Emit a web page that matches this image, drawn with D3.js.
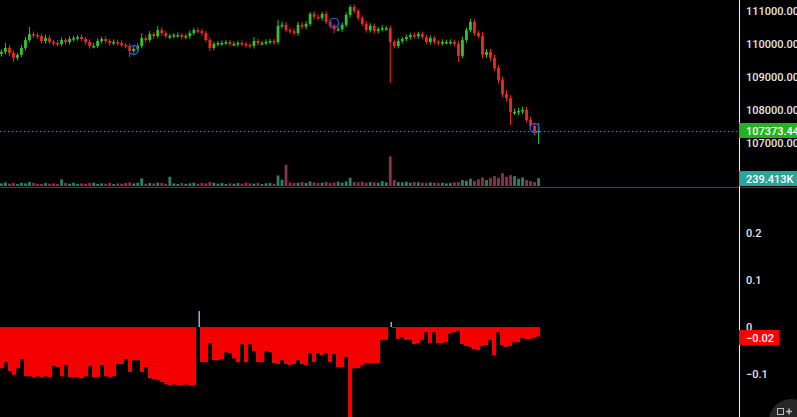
<!DOCTYPE html>
<html>
<head>
<meta charset="utf-8">
<script src="https://cdnjs.cloudflare.com/ajax/libs/d3/7.8.5/d3.min.js"></script>
<style>
  html, body { margin: 0; padding: 0; background: #000; overflow: hidden; }
  svg { display: block; font-family: Roboto, "DejaVu Sans", sans-serif; }
</style>
</head>
<body>
<svg width="797" height="417"></svg>
<script>
// closes of each candle, open = close of the one before
const firstOpen = 109700;
const closes = [
  109760, 109880, 109730, 109580, 109670, 109880, 110120, 110300, 110270, 110240,
  110090, 110180, 110060, 110030, 110000, 110120, 110060, 110150, 110180, 110210,
  110150, 110060, 109940, 109940, 110090, 110150, 110090, 110030, 110060, 110030,
  109970, 109940, 109790, 109850, 109940, 110180, 110120, 110300, 110240, 110420,
  110330, 110240, 110240, 110270, 110270, 110210, 110240, 110330, 110420, 110390,
  110330, 110120, 109880, 110000, 110030, 110030, 110060, 110000, 110000, 110030,
  110000, 109970, 109940, 110090, 110030, 110030, 110060, 110090, 110060, 110550,
  110580, 110420, 110390, 110330, 110580, 110520, 110610, 110910, 110820, 110790,
  110910, 110670, 110550, 110450, 110450, 110580, 110880, 111120, 111000, 110790,
  110610, 110420, 110550, 110390, 110450, 110480, 110480, 110060, 109940, 110090,
  110150, 110210, 110270, 110240, 110300, 110210, 110060, 110180, 110060, 110030,
  110060, 110060, 110060, 110000, 109640, 110120, 110420, 110670, 110330, 110240,
  109670, 109760, 109580, 109270, 108910, 108480, 108360, 107940, 107940, 107970,
  108000, 107700, 107520, 107330, 107373.44
];
// wick length above / below the body
const wickUp = [
  80, 150, 90, 70, 60, 90, 100, 215, 80, 60,
  70, 100, 80, 60, 90, 80, 60, 80, 70, 60,
  80, 60, 80, 90, 80, 70, 80, 60, 80, 70,
  80, 60, 80, 70, 80, 150, 80, 90, 70, 120,
  80, 70, 70, 60, 80, 70, 60, 80, 70, 80,
  70, 60, 80, 70, 60, 80, 70, 60, 80, 70,
  80, 70, 60, 120, 70, 60, 80, 70, 60, 180,
  100, 80, 70, 80, 100, 80, 80, 60, 80, 70,
  60, 80, 70, 60, 80, 70, 80, 60, 80, 70,
  80, 90, 80, 70, 60, 100, 70, 80, 70, 80,
  70, 80, 70, 80, 70, 80, 70, 80, 70, 60,
  80, 70, 80, 70, 90, 100, 80, 90, 80, 70,
  120, 80, 90, 100, 90, 100, 120, 90, 100, 90,
  100, 90, 100, 90, 230
];
const wickDown = [
  80, 80, 100, 125, 70, 70, 80, 70, 80, 80,
  70, 80, 70, 80, 70, 70, 80, 70, 70, 80,
  70, 80, 80, 70, 70, 80, 70, 80, 70, 80,
  70, 80, 185, 70, 80, 70, 80, 70, 80, 70,
  80, 70, 100, 70, 80, 70, 70, 80, 70, 70,
  80, 70, 100, 70, 70, 80, 70, 80, 70, 80,
  70, 80, 70, 80, 70, 80, 70, 70, 80, 70,
  80, 70, 80, 70, 80, 70, 80, 70, 80, 70,
  80, 70, 80, 120, 70, 80, 70, 80, 70, 80,
  70, 80, 70, 80, 70, 70, 80, 1240, 80, 70,
  80, 70, 80, 70, 80, 70, 70, 80, 80, 70,
  80, 70, 80, 80, 185, 70, 80, 70, 80, 70,
  100, 90, 100, 90, 100, 90, 100, 395, 90, 100,
  90, 80, 90, 100, 360
];
// volume, thousands
const volumes = [
  80, 110, 70, 90, 60, 100, 80, 120, 90, 70,
  60, 90, 70, 80, 60, 200, 90, 70, 100, 60,
  80, 70, 90, 100, 60, 80, 70, 90, 60, 80,
  70, 90, 110, 80, 100, 230, 70, 90, 80, 100,
  90, 70, 280, 80, 60, 90, 70, 80, 100, 70,
  90, 80, 120, 100, 70, 90, 60, 80, 70, 90,
  70, 100, 80, 70, 90, 60, 80, 90, 70, 320,
  190, 640, 110, 90, 100, 120, 90, 140, 110, 90,
  100, 120, 90, 110, 130, 100, 140, 250, 120, 110,
  130, 100, 120, 110, 100, 150, 110, 900, 180, 120,
  110, 130, 100, 120, 110, 100, 90, 110, 100, 90,
  100, 80, 90, 110, 120, 180, 160, 220, 150, 200,
  260, 180, 240, 300, 250, 390, 280, 330, 300, 220,
  260, 180, 150, 120, 239.413
];
// lower pane oscillator
const osc = [
  -0.087, -0.074, -0.093, -0.101, -0.087, -0.068, -0.104, -0.104, -0.106, -0.104,
  -0.106, -0.104, -0.106, -0.082, -0.085, -0.104, -0.080, -0.106, -0.106, -0.106,
  -0.108, -0.104, -0.082, -0.106, -0.106, -0.080, -0.104, -0.106, -0.104, -0.078,
  -0.078, -0.068, -0.095, -0.070, -0.070, -0.095, -0.085, -0.108, -0.110, -0.112,
  -0.116, -0.121, -0.123, -0.121, -0.123, -0.123, -0.121, -0.123, -0.123, 0.034,
  -0.074, -0.074, -0.034, -0.070, -0.070, -0.068, -0.053, -0.055, -0.066, -0.074,
  -0.036, -0.074, -0.036, -0.051, -0.074, -0.074, -0.051, -0.053, -0.076, -0.078,
  -0.070, -0.078, -0.080, -0.078, -0.070, -0.078, -0.080, -0.055, -0.074, -0.055,
  -0.059, -0.055, -0.074, -0.057, -0.085, -0.085, -0.063, -0.190, -0.087, -0.087,
  -0.080, -0.076, -0.076, -0.076, -0.076, -0.027, -0.027, 0.011, -0.002, -0.025,
  -0.021, -0.027, -0.027, -0.036, -0.034, -0.027, -0.011, -0.034, -0.011, -0.034,
  -0.034, -0.032, -0.013, -0.011, -0.008, -0.036, -0.040, -0.042, -0.047, -0.049,
  -0.040, -0.038, -0.027, -0.059, -0.011, -0.038, -0.042, -0.040, -0.032, -0.032,
  -0.023, -0.025, -0.025, -0.023, -0.020
];
const priceTicks = [111000, 110000, 109000, 108000, 107000];
const oscTicks = [0.2, 0.1, 0, -0.1];
const markIdx = [33, 83, 133];
const markPrice = [109820, 110640, 107455];
const lastPrice = 107373.44;
const lastVolume = 239.413;
const lastOsc = -0.02;

const svg = d3.select("svg");
const W = 797, H = 417, axisX = 739, paneSplit = 187;
const upColor = "#35c22f", downColor = "#ec2a1f";
const labelFont = 11;

const n = closes.length;
const opens = closes.map((c, i) => i === 0 ? firstOpen : closes[i - 1]);

const x = d3.scaleBand().domain(d3.range(n)).range([0, 540]).paddingInner(0.3);
const xo = d3.scaleBand().domain(d3.range(n)).range([0, 540]);
const y = d3.scaleLinear().domain([105667, 111333]).range([paneSplit, 0]);
const vy = d3.scaleLinear().domain([0, 1000]).range([186, 153]);
const oy = d3.scaleLinear().domain([-0.19, 0.294]).range([H, paneSplit + 1]);

svg.append("rect").attr("width", W).attr("height", H).attr("fill", "#000");

// volume
svg.append("g").selectAll("rect")
  .data(volumes)
  .enter().append("rect")
  .attr("x", (d, i) => x(i))
  .attr("width", x.bandwidth())
  .attr("y", d => vy(d))
  .attr("height", d => vy(0) - vy(d))
  .attr("fill", (d, i) => closes[i] >= opens[i] ? "#2a7f66" : "#8d2f55");

// last price dotted line
svg.append("line")
  .attr("x1", 0).attr("x2", axisX)
  .attr("y1", Math.round(y(lastPrice)) + 0.5).attr("y2", Math.round(y(lastPrice)) + 0.5)
  .attr("stroke", "#2fb52a").attr("stroke-dasharray", "1,3");

// candles
const candle = svg.append("g").selectAll("g")
  .data(closes)
  .enter().append("g")
  .attr("fill", (d, i) => d >= opens[i] ? upColor : downColor)
  .attr("stroke", (d, i) => d >= opens[i] ? upColor : downColor);

candle.append("line")
  .attr("x1", (d, i) => x(i) + x.bandwidth() / 2)
  .attr("x2", (d, i) => x(i) + x.bandwidth() / 2)
  .attr("y1", (d, i) => y(Math.max(d, opens[i]) + wickUp[i]))
  .attr("y2", (d, i) => y(Math.min(d, opens[i]) - wickDown[i]))
  .attr("stroke-width", 1);

candle.append("rect")
  .attr("stroke", "none")
  .attr("x", (d, i) => x(i))
  .attr("width", x.bandwidth())
  .attr("y", (d, i) => y(Math.max(d, opens[i])))
  .attr("height", (d, i) => Math.max(1.5, Math.abs(y(d) - y(opens[i]))));

// marker circles
svg.append("g").selectAll("circle")
  .data(markIdx)
  .enter().append("circle")
  .attr("cx", d => x(d) + x.bandwidth() / 2)
  .attr("cy", (d, i) => y(markPrice[i]))
  .attr("r", 4.5)
  .attr("fill", "none")
  .attr("stroke", "#2f55d4")
  .attr("stroke-width", 1.4);

// oscillator bars
svg.append("g").selectAll("rect")
  .data(osc)
  .enter().append("rect")
  .attr("x", (d, i) => d > 0 ? xo(i) + xo.bandwidth() - 1.5 : xo(i))
  .attr("width", d => d > 0 ? 1.5 : xo.bandwidth())
  .attr("y", d => Math.min(oy(d), oy(0)))
  .attr("height", d => Math.abs(oy(d) - oy(0)))
  .attr("fill", d => d > 0 ? "#9aa8dc" : "#f40000");

// separators
svg.append("line")
  .attr("x1", 0).attr("x2", W).attr("y1", paneSplit + 0.5).attr("y2", paneSplit + 0.5)
  .attr("stroke", "#3b3f4a");
svg.append("line")
  .attr("x1", axisX + 0.5).attr("x2", axisX + 0.5).attr("y1", 0).attr("y2", H)
  .attr("stroke", "#f0f0f0");

// axes
const priceAxis = svg.append("g")
  .attr("transform", "translate(" + axisX + ",0)")
  .call(d3.axisRight(y).tickValues(priceTicks).tickFormat(d3.format(".2f")).tickSize(0).tickPadding(7));
const oscAxis = svg.append("g")
  .attr("transform", "translate(" + axisX + ",0)")
  .call(d3.axisRight(oy).tickValues(oscTicks).tickFormat(d3.format("~g")).tickSize(0).tickPadding(7));
[priceAxis, oscAxis].forEach(function (g) {
  g.select(".domain").remove();
  g.selectAll("text")
    .attr("fill", "#e6e6e6")
    .attr("font-size", labelFont)
    .attr("font-weight", 500)
    .attr("font-family", "Roboto, sans-serif");
});

// value labels on the axis
function tag(yPos, w, color, label) {
  const g = svg.append("g").attr("transform", "translate(" + axisX + "," + Math.round(yPos - 7.5) + ")");
  g.append("rect").attr("width", w).attr("height", 15).attr("fill", color);
  g.append("text")
    .attr("x", 7).attr("y", 11.5)
    .attr("fill", "#fff")
    .attr("font-size", labelFont)
    .attr("font-weight", 500)
    .text(label);
}
tag(y(lastPrice), W - axisX, "#22b41d", d3.format(".2f")(lastPrice));
tag(vy(lastVolume) + 0.5, W - axisX, "#26a69a", lastVolume.toFixed(3) + "K");
tag(oy(lastOsc) + 1, 40, "#ff0000", d3.format(".2f")(lastOsc));

// corner button
svg.append("circle").attr("cx", 791).attr("cy", 421).attr("r", 22).attr("fill", "#262626");
svg.append("rect").attr("x", 777.5).attr("y", 408.5).attr("width", 6).attr("height", 6)
  .attr("fill", "none").attr("stroke", "#bbb");
svg.append("path").attr("d", "M786,411.5h6M789,408.5v6").attr("stroke", "#bbb").attr("stroke-width", 1.5);
</script>
</body>
</html>
